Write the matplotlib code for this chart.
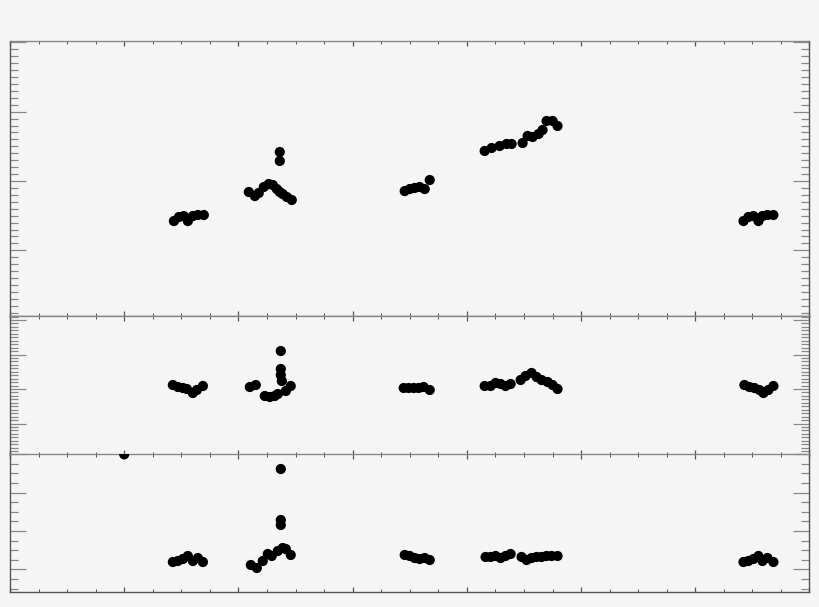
import matplotlib
matplotlib.use("Agg")
from matplotlib import pyplot as plt
from matplotlib.ticker import MultipleLocator, NullFormatter
import numpy as np

# top panel
top_x = [1.435, 1.479, 1.522, 1.557, 1.601, 1.645, 1.697,
         2.091, 2.144, 2.178, 2.222, 2.266, 2.301, 2.336, 2.362, 2.388, 2.424, 2.467, 2.362, 2.362,
         3.456, 3.500, 3.543, 3.587, 3.631, 3.675,
         4.156, 4.217, 4.287, 4.348, 4.392, 4.488, 4.532, 4.576, 4.628, 4.663, 4.698, 4.751, 4.794,
         6.422, 6.465, 6.509, 6.553, 6.588, 6.632, 6.684]
top_y = [1.422, 1.480, 1.494, 1.422, 1.494, 1.509, 1.509,
         1.841, 1.783, 1.827, 1.913, 1.957, 1.942, 1.884, 1.841, 1.812, 1.769, 1.726, 2.418, 2.289,
         1.855, 1.884, 1.899, 1.913, 1.884, 2.014,
         2.433, 2.476, 2.505, 2.534, 2.534, 2.548, 2.650, 2.635, 2.678, 2.736, 2.866, 2.866, 2.794,
         1.422, 1.480, 1.494, 1.422, 1.494, 1.509, 1.509]

# middle panel
mid_x = [1.426, 1.470, 1.514, 1.549, 1.601, 1.636, 1.689,
         2.100, 2.152, 2.231, 2.275, 2.318, 2.345, 2.371, 2.371, 2.371, 2.380, 2.415, 2.458,
         3.447, 3.491, 3.535, 3.578, 3.622, 3.675,
         4.156, 4.208, 4.252, 4.296, 4.339, 4.383, 4.471, 4.514, 4.567, 4.611, 4.654, 4.707, 4.751, 4.794,
         6.430, 6.474, 6.518, 6.562, 6.597, 6.640, 6.684]
mid_y = [2.116, 2.058, 2.029, 2.000, 1.884, 1.971, 2.087,
         2.058, 2.116, 1.797, 1.768, 1.797, 1.855, 3.101, 2.580, 2.406, 2.232, 1.942, 2.087,
         2.029, 2.029, 2.029, 2.029, 2.058, 1.971,
         2.087, 2.087, 2.174, 2.145, 2.087, 2.145, 2.261, 2.377, 2.464, 2.348, 2.261, 2.203, 2.116, 2.000,
         2.116, 2.058, 2.029, 1.971, 1.884, 1.971, 2.087]

# bottom panel
bot_x = [1.0,
         1.426, 1.470, 1.514, 1.557, 1.601, 1.645, 1.689,
         2.109, 2.161, 2.213, 2.257, 2.292, 2.345, 2.388, 2.415, 2.458, 2.371, 2.371, 2.371,
         3.456, 3.500, 3.543, 3.587, 3.631, 3.675,
         4.164, 4.208, 4.252, 4.296, 4.339, 4.383, 4.479, 4.523, 4.567, 4.611, 4.654, 4.698, 4.742, 4.794,
         6.422, 6.465, 6.509, 6.553, 6.588, 6.632, 6.684]
bot_y = [4.0,
         1.195, 1.221, 1.273, 1.352, 1.221, 1.299, 1.195,
         1.117, 1.039, 1.221, 1.404, 1.352, 1.482, 1.560, 1.534, 1.378, 3.617, 2.289, 2.159,
         1.378, 1.352, 1.299, 1.273, 1.299, 1.247,
         1.326, 1.326, 1.352, 1.299, 1.352, 1.404, 1.326, 1.247, 1.299, 1.326, 1.326, 1.352, 1.352, 1.352,
         1.195, 1.221, 1.273, 1.352, 1.221, 1.299, 1.195]

bg = "#f5f5f5"
fig = plt.figure(figsize=(8.2, 6.07), dpi=100, facecolor=bg)

W = 820.0
H = 607.0
def px_axes(top, bottom):
    return fig.add_axes([10 / W, (H - bottom) / H, 799.5 / W, (bottom - top) / H])

panels = [
    (px_axes(41, 316), top_x, top_y, (0.052, 4.02), 0.1),
    (px_axes(316, 455), mid_x, mid_y, (0.087, 4.116), 0.1),
    (px_axes(454.3, 592), bot_x, bot_y, (0.414, 4.0), 0.25),
]

for ax, xs, ys, ylim, yminor in panels:
    ax.set_facecolor(bg)
    ax.scatter(xs, ys, s=54, c="black", edgecolors="none", zorder=3)
    ax.set_xlim(0, 7)
    ax.set_ylim(*ylim)
    ax.xaxis.set_major_locator(MultipleLocator(1))
    ax.xaxis.set_minor_locator(MultipleLocator(0.25))
    ax.yaxis.set_major_locator(MultipleLocator(1))
    ax.yaxis.set_minor_locator(MultipleLocator(yminor))
    ax.xaxis.set_major_formatter(NullFormatter())
    ax.yaxis.set_major_formatter(NullFormatter())
    for sp in ax.spines.values():
        sp.set_color("#555555")
        sp.set_linewidth(1.0)
    ax.spines["top"].set_color("#888888")
    ax.tick_params(axis="x", which="major", direction="in", top=True, bottom=True,
                   length=3.6, width=0.9, color="#555555")
    ax.tick_params(axis="x", which="minor", direction="in", top=True, bottom=True,
                   length=2.0, width=0.7, color="#555555")
    ax.tick_params(axis="y", which="major", direction="in", left=True, right=True,
                   length=11.5, width=0.9, color="#888888")
    ax.tick_params(axis="y", which="minor", direction="in", left=True, right=True,
                   length=5.8, width=0.9, color="#888888")

fig.savefig("out.png", dpi=100, facecolor=bg)
